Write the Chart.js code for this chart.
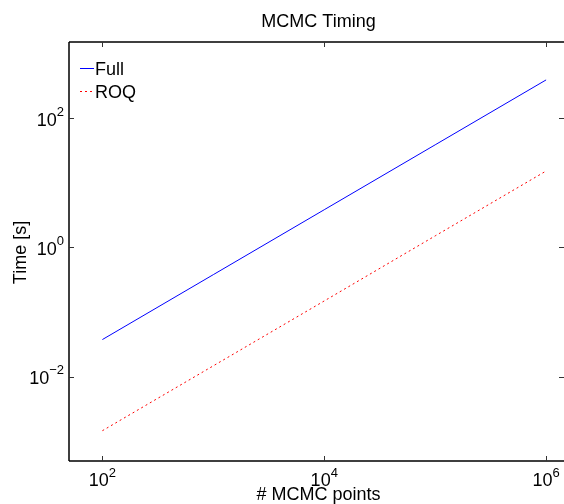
<!DOCTYPE html>
<html>
<head>
<meta charset="utf-8">
<script src="https://cdn.jsdelivr.net/npm/chart.js@4"></script>
<style>
html,body{margin:0;padding:0;background:#fff;overflow:hidden;}
#wrap{width:564px;height:504px;position:relative;}
</style>
</head>
<body>
<div id="wrap"><canvas id="c"></canvas></div>
<script>
// ---- data ----
const mcmcPoints = [100, 1000, 10000, 100000, 1000000];
const fullTimes = [0.0377, 0.380, 3.83, 38.6, 389];
const roqTimes = [0.00147, 0.0148, 0.149, 1.51, 15.2];
const seriesNames = ['Full', 'ROQ'];
const xTickValues = [1e2, 1e4, 1e6];
const xTickExponents = ['2', '4', '6'];
const yTickValues = [1e-2, 1e0, 1e2];
const yTickExponents = ['\u22122', '0', '2'];
const chartTitle = 'MCMC Timing';
const xTitle = '# MCMC points';
const yTitle = 'Time [s]';

const FONT = '"Liberation Sans", Arial, Helvetica, sans-serif';

const axesPlugin = {
  id: 'matlabAxes',
  afterDraw(chart) {
    const ctx = chart.ctx;
    const a = chart.chartArea;
    const xs = chart.scales.x, ys = chart.scales.y;
    ctx.save();
    // box (right edge falls outside the picture in the reference)
    ctx.strokeStyle = '#000';
    ctx.lineWidth = 1.5;
    ctx.beginPath();
    ctx.moveTo(a.left, a.top); ctx.lineTo(a.right + 2, a.top);
    ctx.moveTo(a.left, a.top); ctx.lineTo(a.left, a.bottom);
    ctx.moveTo(a.left, a.bottom); ctx.lineTo(a.right + 2, a.bottom);
    ctx.stroke();
    // inward ticks
    ctx.lineWidth = 1;
    ctx.strokeStyle = '#333';
    const tl = 5;
    ctx.beginPath();
    xTickValues.forEach(v => {
      const px = Math.round(xs.getPixelForValue(v)) + 0.5;
      ctx.moveTo(px, a.bottom); ctx.lineTo(px, a.bottom - tl);
      ctx.moveTo(px, a.top); ctx.lineTo(px, a.top + tl);
    });
    yTickValues.forEach(v => {
      const py = Math.round(ys.getPixelForValue(v)) + 0.5;
      ctx.moveTo(a.left, py); ctx.lineTo(a.left + tl, py);
      ctx.moveTo(a.right, py); ctx.lineTo(a.right - tl, py);
    });
    ctx.stroke();

    // tick labels
    ctx.fillStyle = '#000';
    ctx.textBaseline = 'alphabetic';
    ctx.textAlign = 'left';
    const base = '10';
    xTickValues.forEach((v, i) => {
      const px = xs.getPixelForValue(v);
      ctx.font = '18px ' + FONT;
      const wb = ctx.measureText(base).width;
      ctx.font = '13px ' + FONT;
      const we = ctx.measureText(xTickExponents[i]).width;
      const start = px - (wb + we) / 2;
      ctx.font = '18px ' + FONT;
      ctx.fillText(base, start, a.bottom + 25);
      ctx.font = '13px ' + FONT;
      ctx.fillText(xTickExponents[i], start + wb, a.bottom + 15.5);
    });
    yTickValues.forEach((v, i) => {
      const py = ys.getPixelForValue(v);
      ctx.font = '18px ' + FONT;
      const wb = ctx.measureText(base).width;
      ctx.font = '13px ' + FONT;
      const we = ctx.measureText(yTickExponents[i]).width;
      const right = a.left - 5;
      const start = right - wb - we;
      ctx.font = '18px ' + FONT;
      ctx.fillText(base, start, py + 7.5);
      ctx.font = '13px ' + FONT;
      ctx.fillText(yTickExponents[i], start + wb, py - 2.5);
    });

    // titles
    ctx.font = '18px ' + FONT;
    ctx.textAlign = 'center';
    ctx.fillText(chartTitle, (a.left + a.right) / 2 + 2, 27);
    ctx.fillText(xTitle, (a.left + a.right) / 2 + 2, 500);
    ctx.save();
    ctx.translate(26, (a.top + a.bottom) / 2 + 1);
    ctx.rotate(-Math.PI / 2);
    ctx.fillText(yTitle, 0, 0);
    ctx.restore();

    // legend
    const ds = chart.data.datasets;
    const legendRows = [68, 91];
    ds.forEach((d, i) => {
      const y = legendRows[i] + 0.5;
      ctx.strokeStyle = d.borderColor;
      ctx.lineWidth = 1;
      ctx.setLineDash(d.borderDash || []);
      ctx.beginPath();
      ctx.moveTo(a.left + 11, y);
      ctx.lineTo(a.left + 25, y);
      ctx.stroke();
      ctx.setLineDash([]);
      ctx.fillStyle = '#000';
      ctx.textAlign = 'left';
      ctx.font = '18px ' + FONT;
      ctx.fillText(d.label, a.left + 26, legendRows[i] + 7);
    });
    ctx.restore();
  }
};

new Chart(document.getElementById('c'), {
  type: 'line',
  data: {
    labels: mcmcPoints,
    datasets: [
      {
        label: seriesNames[0],
        data: mcmcPoints.map((x, i) => ({x: x, y: fullTimes[i]})),
        borderColor: '#0000ff',
        borderWidth: 1,
        pointRadius: 0,
        tension: 0,
        fill: false
      },
      {
        label: seriesNames[1],
        data: mcmcPoints.map((x, i) => ({x: x, y: roqTimes[i]})),
        borderColor: '#ff0000',
        borderWidth: 1,
        borderDash: [2, 3],
        pointRadius: 0,
        tension: 0,
        fill: false
      }
    ]
  },
  options: {
    responsive: true,
    maintainAspectRatio: false,
    animation: false,
    layout: {padding: {left: 69, top: 42, right: 0, bottom: 43}},
    plugins: {
      legend: {display: false},
      title: {display: false},
      tooltip: {enabled: false}
    },
    scales: {
      x: {type: 'logarithmic', min: 50, max: 1.45e6, bounds: 'data', display: false},
      y: {type: 'logarithmic', min: 5e-4, max: 1500, bounds: 'data', display: false}
    }
  },
  plugins: [axesPlugin]
});
</script>
</body>
</html>
